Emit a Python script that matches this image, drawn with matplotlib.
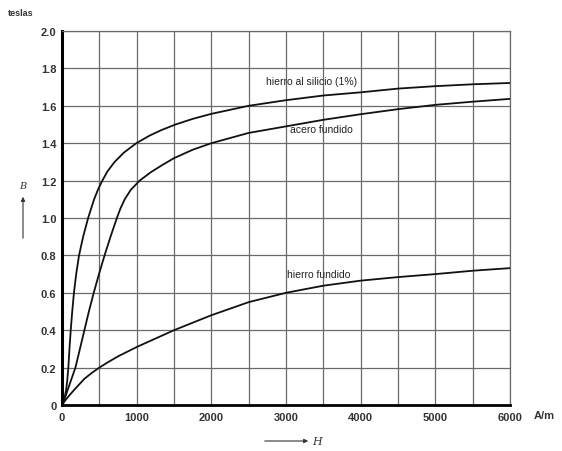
import matplotlib.pyplot as plt
from matplotlib.patches import FancyArrowPatch
from matplotlib.ticker import MultipleLocator

plt.rcParams['font.family'] = ['Liberation Sans', 'DejaVu Sans']

# curves (H in A/m, B in teslas)
h_silicio = [0, 30, 55, 70, 85, 100, 117, 137, 160, 190, 228, 283, 350, 430, 480,
             540, 610, 705, 830, 995, 1170, 1330, 1520, 1750, 2000, 2500, 3000,
             3500, 4000, 4500, 5000, 5500, 6000]
b_silicio = [0, 0.03, 0.08, 0.13, 0.2, 0.3, 0.4, 0.5, 0.6, 0.7, 0.8, 0.9, 1.0, 1.1, 1.15,
             1.2, 1.25, 1.3, 1.35, 1.4, 1.44, 1.47, 1.50, 1.53, 1.557, 1.60, 1.63,
             1.655, 1.672, 1.692, 1.705, 1.715, 1.722]

h_acero = [0, 50, 110, 180, 240, 300, 360, 425, 495, 570, 650, 735, 782, 840, 920,
           1040, 1190, 1350, 1500, 1750, 2000, 2500, 3000, 3500, 4000, 4500, 5000,
           5500, 6000]
b_acero = [0, 0.05, 0.12, 0.2, 0.3, 0.4, 0.5, 0.6, 0.7, 0.8, 0.9, 1.0, 1.05, 1.1, 1.15,
           1.2, 1.245, 1.285, 1.32, 1.365, 1.40, 1.455, 1.49, 1.525, 1.555, 1.582, 1.605,
           1.622, 1.637]

h_fundido = [0, 50, 100, 150, 200, 300, 400, 500, 600, 750, 1000, 1250, 1500, 1750,
             2000, 2500, 3000, 3500, 4000, 4500, 5000, 5500, 6000]
b_fundido = [0, 0.028, 0.052, 0.075, 0.097, 0.14, 0.172, 0.2, 0.225, 0.26, 0.31, 0.355,
             0.40, 0.44, 0.48, 0.55, 0.60, 0.638, 0.665, 0.684, 0.70, 0.718, 0.732]

x_ticks = [0, 1000, 2000, 3000, 4000, 5000, 6000]
y_ticks = [0, 0.2, 0.4, 0.6, 0.8, 1.0, 1.2, 1.4, 1.6, 1.8, 2.0]
y_labels = ['0', '0.2', '0.4', '0.6', '0.8', '1.0', '1.2', '1.4', '1.6', '1.8', '2.0']

fig = plt.figure(figsize=(5.62, 4.52), dpi=100)
ax = fig.add_axes([62 / 562, 1 - 406 / 452, 448 / 562, 374 / 452])

ax.set_xlim(0, 6000)
ax.set_ylim(0, 2.0)
ax.xaxis.set_minor_locator(MultipleLocator(500))
ax.set_xticks(x_ticks)
ax.set_yticks(y_ticks)
ax.set_yticklabels(y_labels)
ax.grid(True, which='both', color='#6a6a6a', lw=0.9)
ax.set_axisbelow(True)
ax.tick_params(which='both', length=0)
ax.tick_params(axis='x', pad=5)
ax.tick_params(axis='y', pad=4)
for lab in ax.get_xticklabels() + ax.get_yticklabels():
    lab.set_fontweight('bold')
    lab.set_fontsize(8)
    lab.set_color('#333333')

ax.spines['left'].set_linewidth(2.2)
ax.spines['bottom'].set_linewidth(2.0)
for s in ['top', 'right']:
    ax.spines[s].set_linewidth(0.9)
    ax.spines[s].set_color('#6a6a6a')

for h, b in [(h_silicio, b_silicio), (h_acero, b_acero), (h_fundido, b_fundido)]:
    ax.plot(h, b, color='#111111', lw=1.3, solid_joinstyle='round')

ax.text(2732, 1.733, 'hierro al silicio (1%)', fontsize=7.5, color='#222222', va='center')
ax.text(3054, 1.476, 'acero fundido', fontsize=7.5, color='#222222', va='center')
ax.text(3013, 0.70, 'hierro fundido', fontsize=7.5, color='#222222', va='center')

fig.text(8 / 562, 1 - 13 / 452, 'teslas', fontsize=6.5, fontweight='bold', color='#333333',
         va='center')
fig.text(534 / 562, 1 - 416 / 452, 'A/m', fontsize=8, fontweight='bold', color='#333333',
         va='center')

# B arrow on the left, H arrow below
fig.text(23 / 562, 1 - 187 / 452, 'B', fontsize=7, style='italic', family='DejaVu Serif',
         color='#333333', ha='center', va='center')
fig.patches.append(FancyArrowPatch(
    (23 / 562, 1 - 242 / 452), (23 / 562, 1 - 195 / 452), transform=fig.transFigure,
    arrowstyle='-|>', mutation_scale=6, color='#333333', lw=0.8))
fig.text(317 / 562, 1 - 442 / 452, 'H', fontsize=8, style='italic', family='DejaVu Serif',
         color='#333333', ha='center', va='center')
fig.patches.append(FancyArrowPatch(
    (262 / 562, 1 - 442 / 452), (311 / 562, 1 - 442 / 452), transform=fig.transFigure,
    arrowstyle='-|>', mutation_scale=6, color='#333333', lw=0.8))

fig.savefig('out.png', dpi=100)
